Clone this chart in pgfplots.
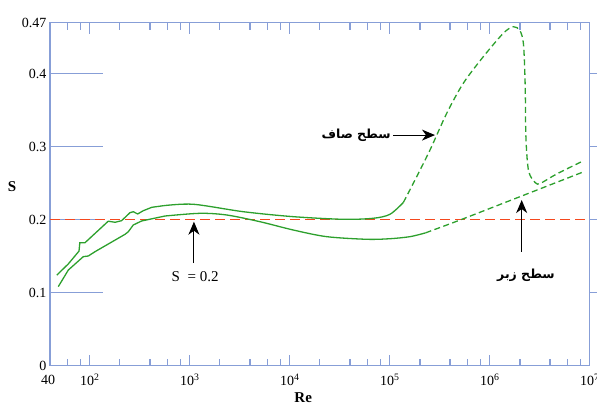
\documentclass[border=0pt]{standalone}
\usepackage{fontspec}
\setmainfont{Liberation Serif}
\newfontfamily\arabicfont[Script=Arabic]{DejaVu Sans}
\TeXXeTstate=1
\usepackage{pgfplots}
\pgfplotsset{compat=1.18}
\usetikzlibrary{arrows.meta}
\definecolor{axblue}{RGB}{135,158,215}
\definecolor{curvegreen}{RGB}{45,160,45}
\definecolor{refred}{RGB}{245,72,30}
\begin{document}
\begin{tikzpicture}
\begin{axis}[
  name=ax,
  scale only axis, width=539.8pt, height=343pt,
  xmode=log, xmin=40, xmax=1e7, ymin=0, ymax=0.47,
  clip mode=individual,
  axis line style={draw=axblue, line width=1.3pt},
  every tick/.append style={draw=axblue, line width=1.2pt},
  ytick style={draw=none},
  tick align=inside,
  major tick length=11pt, minor tick length=7pt,
  xtick={100,1000,10000,100000,1000000,10000000},
  xticklabels={10\textsuperscript{2},10\textsuperscript{3},10\textsuperscript{4},10\textsuperscript{5},10\textsuperscript{6},10\textsuperscript{7}},
  minor xtick={60,80,200,400,600,800,2000,4000,6000,8000,20000,40000,60000,80000,200000,400000,600000,800000,2000000,4000000,6000000,8000000},
  ytick={0,0.1,0.2,0.3,0.4,0.47},
  yticklabels={0,0.1,0.2,0.3,0.4,0.47},
  /pgf/number format/assume math mode=true,
  tick label style={font=\fontsize{14}{16}\selectfont, text=black},
  xticklabel style={yshift=-5pt},
]
% y tick marks (left and right)
\draw[axblue, line width=1.3pt] (axis cs:40,0.1) -- ++(10pt,0);
\draw[axblue, line width=1.3pt] (axis cs:40,0.2) -- ++(10pt,0);
\draw[axblue, line width=1.3pt] (axis cs:40,0.3) -- ++(10pt,0);
\draw[axblue, line width=1.3pt] (axis cs:40,0.4) -- ++(10pt,0);
\draw[axblue, line width=1.3pt] (axis cs:10000000,0.1) -- ++(-8pt,0);
\draw[axblue, line width=1.3pt] (axis cs:10000000,0.2) -- ++(-8pt,0);
\draw[axblue, line width=1.3pt] (axis cs:10000000,0.3) -- ++(-8pt,0);
\draw[axblue, line width=1.3pt] (axis cs:10000000,0.4) -- ++(-8pt,0);
% reference line S = 0.2
\addplot[draw=refred, line width=1.3pt, dash pattern=on 10pt off 5pt] coordinates {(40,0.2) (1e7,0.2)};
% smooth surface, solid part
\addplot[draw=curvegreen, line width=1.3pt] coordinates {
(46.7,0.124) (61,0.1395) (78,0.157) (79.5,0.1685) (89.5,0.1685) (153,0.198) (179,0.1965) (208,0.1987)
(252,0.2096) (272,0.211) (301,0.2079) (343,0.2124) (416,0.217) (543,0.2192)};
\addplot[draw=curvegreen, line width=1.3pt, smooth, tension=0.5] coordinates {
(543,0.2192) (1084,0.2212) (3428,0.211) (10840,0.2042) (34280,0.2006) (68390,0.202) (100460,0.2075) (136500,0.2236)};
% smooth surface, dashed part
\addplot[draw=curvegreen, line width=1.3pt, dash pattern=on 6pt off 3.5pt, smooth, tension=0.5] coordinates {
(136500,0.2236) (171800,0.2499) (252300,0.2955) (370700,0.3458) (543300,0.387) (861000,0.4234)
(1365000,0.4555) (1718000,0.4645) (2004000,0.459) (2173000,0.440) (2259000,0.384) (2296000,0.3137)
(2443000,0.2668) (2864000,0.2505) (3221000,0.250) (4667000,0.2627) (8710000,0.281)};
% rough surface, solid part
\addplot[draw=curvegreen, line width=1.3pt] coordinates {
(48.4,0.1083) (61,0.1311) (86.1,0.1494) (96.6,0.1503) (112.7,0.1562) (225,0.180) (243,0.1836)
(272,0.1928) (330,0.1983) (565,0.2051)};
\addplot[draw=curvegreen, line width=1.3pt, smooth, tension=0.5] coordinates {
(565,0.2051) (1265,0.2088) (2339,0.2065) (5035,0.1973) (10840,0.1859) (23390,0.1768) (58750,0.1732)
(100460,0.174) (159200,0.1768) (227500,0.182)};
% rough surface, dashed part
\addplot[draw=curvegreen, line width=1.3pt, dash pattern=on 6pt off 3.5pt, smooth, tension=0.4] coordinates {
(227500,0.182) (503500,0.1996) (2004000,0.2316) (8710000,0.2658)};
% annotations
\draw[-{Stealth[length=13pt,width=11pt,inset=4pt]}, line width=1.1pt, black] (axis cs:1100,0.1407) -- (axis cs:1100,0.1973);
\node[font=\fontsize{15}{17}\selectfont] at (axis cs:1130,0.1215) {S\enspace= 0.2};
\draw[-{Stealth[length=13pt,width=11pt,inset=4pt]}, line width=1.1pt, black] (axis cs:107700,0.316) -- (axis cs:283000,0.316);
\node[anchor=east, inner sep=1pt, font=\fontsize{12.5}{14}\selectfont] at (axis cs:105000,0.316) {\arabicfont\bfseries\beginR سطح صاف\endR};
\draw[-{Stealth[length=13pt,width=11pt,inset=4pt]}, line width=1.1pt, black] (axis cs:2084000,0.1562) -- (axis cs:2084000,0.227);
\node[font=\fontsize{12.5}{14}\selectfont] at (axis cs:2300000,0.1243) {\arabicfont\bfseries\beginR سطح زبر\endR};
% axis labels
\node[font=\fontsize{14}{16}\selectfont, anchor=north] at (rel axis cs:0,0) [yshift=-6pt, xshift=-2pt] {40};
\node[xshift=-38pt, font=\bfseries\fontsize{15}{17}\selectfont] at (rel axis cs:0,0.521) {S};
\node[yshift=-32pt, font=\bfseries\fontsize{15}{17}\selectfont] at (rel axis cs:0.469,0) {Re};
\end{axis}
\pgfresetboundingbox
\path[use as bounding box] ([shift={(-50pt,-39.3pt)}]ax.south west) rectangle ([shift={(7.2pt,22.7pt)}]ax.north east);
\end{tikzpicture}
\end{document}
